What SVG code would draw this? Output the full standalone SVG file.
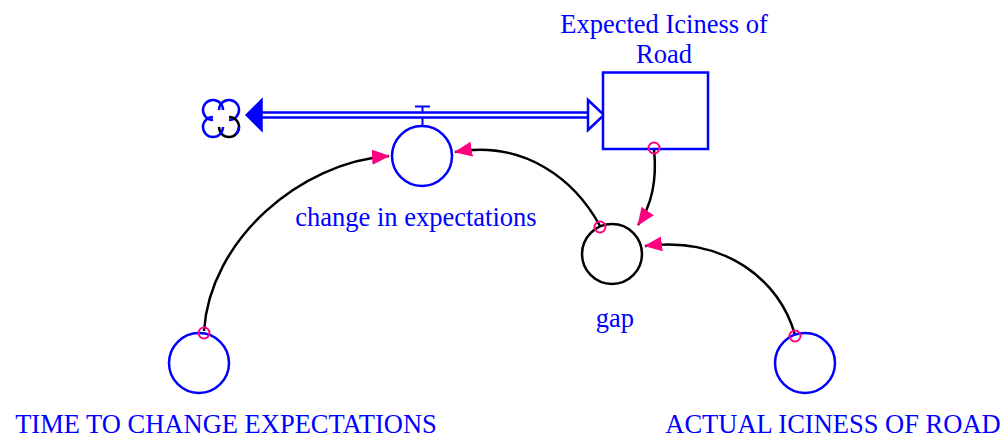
<svg xmlns="http://www.w3.org/2000/svg" width="1005" height="437" viewBox="0 0 1005 437">
<style>
.lbl{font-family:"Liberation Serif","Times New Roman",serif;font-size:26.5px;fill:#0000FF;text-anchor:middle}
.aux{fill:#fff;stroke:#0000FF;stroke-width:2.5}
.auxb{fill:#fff;stroke:#000;stroke-width:2.5}
.link{fill:none;stroke:#000;stroke-width:2.5}
.tail{fill:none;stroke:#FF0080;stroke-width:2}
.pipe{stroke:#0000FF;stroke-width:2.5;fill:none}
</style>
<defs>
<marker id="ah" viewBox="0 0 18 15" refX="17" refY="7.5" markerWidth="18" markerHeight="15" markerUnits="userSpaceOnUse" orient="auto">
<path d="M0,0 L18,7.5 L0,15 Z" fill="#FF0080"/>
</marker>
</defs>
<rect width="1005" height="437" fill="#fff"/>
<g id="connectors">
<path class="link" d="M204,331 C210,240 300,162 389,156" marker-end="url(#ah)"/>
<path class="link" d="M600,226 C575,180 525,140 455,152" marker-end="url(#ah)"/>
<path class="link" d="M654,149 C657,178 652,205 638,225" marker-end="url(#ah)"/>
<path class="link" d="M795,335 C780,280 725,236 645,246" marker-end="url(#ah)"/>
</g>
<g id="flow">
<line class="pipe" x1="258" y1="112.5" x2="590" y2="112.5"/>
<line class="pipe" x1="258" y1="117.5" x2="590" y2="117.5"/>
<path d="M246,115 L262,99 L262,131 Z" fill="#0000FF" stroke="#0000FF" stroke-width="1.5"/>
<path d="M588,100 L604,115 L588,130 Z" fill="#fff" stroke="#0000FF" stroke-width="2.5"/>
<g id="cloud" fill="none" stroke-width="2.5">
<path d="M213,120 A10,10 0 1 1 223,110" stroke="#0000FF"/>
<path d="M219,110 A10,10 0 1 1 229,120" stroke="#0000FF"/>
<path d="M229,117 A10,10 0 1 1 219,127" stroke="#000"/>
<path d="M239,127 A10,10 0 0 1 236,134" stroke="#0000FF"/>
<path d="M223,127 A10,10 0 1 1 213,117" stroke="#0000FF"/>
</g>
</g>
<g id="stock">
<rect x="603" y="72.5" width="105" height="76.5" fill="#fff" stroke="#0000FF" stroke-width="2.5"/>
<text class="lbl" x="664" y="33">Expected Iciness of</text>
<text class="lbl" x="664" y="63">Road</text>
</g>
<g id="change">
<line x1="415" y1="106.5" x2="430" y2="106.5" stroke="#0000FF" stroke-width="2"/>
<line x1="422.5" y1="106.5" x2="422.5" y2="112" stroke="#0000FF" stroke-width="2"/>
<line x1="422.5" y1="118" x2="422.5" y2="126" stroke="#0000FF" stroke-width="2"/>
<circle class="aux" cx="422" cy="156" r="30"/>
<text class="lbl" x="416" y="226">change in expectations</text>
</g>
<g id="gap">
<circle class="auxb" cx="612" cy="254" r="30"/>
<text class="lbl" x="615" y="327">gap</text>
</g>
<g id="time">
<circle class="aux" cx="199" cy="363" r="30"/>
<text class="lbl" x="226" y="432.5">TIME TO CHANGE EXPECTATIONS</text>
</g>
<g id="actual">
<circle class="aux" cx="805" cy="363" r="30"/>
<text class="lbl" x="833" y="432.5">ACTUAL ICINESS OF ROAD</text>
</g>
<g id="tails">
<circle class="tail" cx="204" cy="333" r="5.5"/>
<circle class="tail" cx="600" cy="227" r="5.5"/>
<circle class="tail" cx="654" cy="148" r="5.5"/>
<circle class="tail" cx="795" cy="336" r="5.5"/>
</g>
</svg>
